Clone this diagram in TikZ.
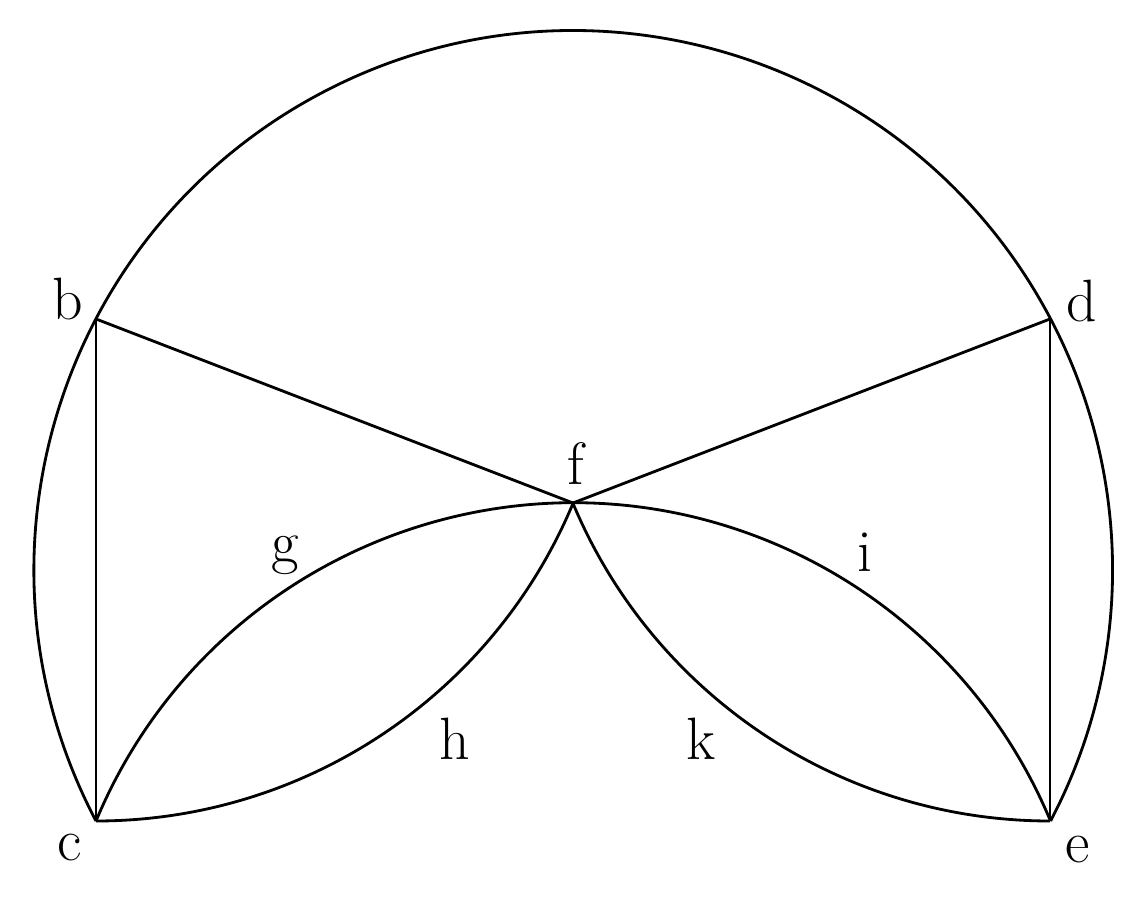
\documentclass[tikz,border=0pt]{standalone}
\begin{document}
\begin{tikzpicture}[x=0.01cm,y=0.01cm,
  edge/.style={line width=0.8pt,black,line join=round},
  lbl/.style={anchor=base,inner sep=0pt,font=\fontsize{17}{20}\selectfont}]
\useasboundingbox (0,0) rectangle (1146,900);
% points
\coordinate (b) at (96,581);
\coordinate (c) at (96,79);
\coordinate (d) at (1050,581);
\coordinate (e) at (1050,79);
\coordinate (f) at (573,397);
% big circular arc from c over the top to e
\draw[edge] (c) arc[start angle=207.75,end angle=-27.75,radius=5.39cm];
% straight lines
\draw[edge] (b) -- (c);
\draw[edge] (d) -- (e);
\draw[edge] (b) -- (f);
\draw[edge] (d) -- (f);
% arcs g and i (one circle through c, f, e)
\draw[edge] (c) arc[start angle=157.38,end angle=22.62,radius=5.1675cm];
% arc h (c to f)
\draw[edge] (c) arc[start angle=-90,end angle=-22.62,radius=5.1675cm];
% arc k (e to f)
\draw[edge] (e) arc[start angle=270,end angle=202.62,radius=5.1675cm];
% labels
\node[lbl] (lb) at (68,580) {b};
\node[lbl] (lc) at (70,40) {c};
\node[lbl] (ld) at (1082,578) {d};
\node[lbl] (le) at (1078,38) {e};
\node[lbl] (lf) at (576,415) {f};
\node[lbl] (lg) at (285,337) {g};
\node[lbl] (lh) at (455,141) {h};
\node[lbl] (li) at (865,328) {i};
\node[lbl] (lk) at (701,141) {k};
\end{tikzpicture}
\end{document}
